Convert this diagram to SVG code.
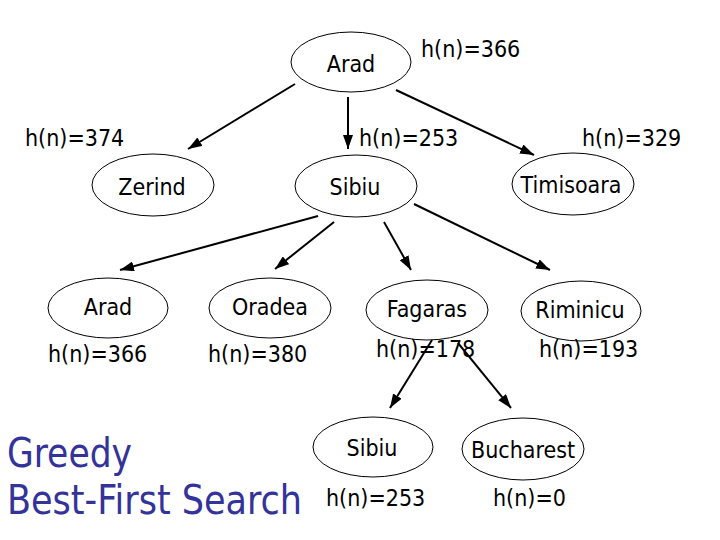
<svg xmlns="http://www.w3.org/2000/svg" width="720" height="540" viewBox="0 0 720 540">
<defs>
<marker id="ah" viewBox="0 0 14 10" refX="14" refY="5" markerWidth="14" markerHeight="10" markerUnits="userSpaceOnUse" orient="auto">
<path d="M0,0 L14,5 L0,10 z" fill="#000"/>
</marker>
<style>
.n ellipse{fill:#fff;stroke:#000;stroke-width:1}
text{font-family:"DejaVu Sans Condensed","DejaVu Sans",sans-serif;font-size:23px;fill:#000}
.c{text-anchor:middle}
.e line{stroke:#000;stroke-width:2;marker-end:url(#ah)}
.t{font-size:40px;fill:#333399}
</style>
</defs>
<rect width="720" height="540" fill="#fff"/>
<g id="edges" class="e">
<line x1="295" y1="84" x2="188" y2="149"/>
<line x1="348" y1="97" x2="348" y2="149"/>
<line x1="396" y1="90" x2="534" y2="155"/>
<line x1="318" y1="216" x2="120" y2="270"/>
<line x1="334" y1="222" x2="275" y2="269"/>
<line x1="384" y1="222" x2="411" y2="270"/>
<line x1="414" y1="204" x2="550" y2="270"/>
<line x1="432" y1="340" x2="390" y2="408"/>
<line x1="458" y1="343" x2="511" y2="408"/>
</g>
<g id="n-arad" class="n"><ellipse cx="351" cy="62" rx="60" ry="30"/><text class="c" x="351" y="72">Arad</text></g>
<text x="421" y="57">h(n)=366</text>
<text x="25" y="146">h(n)=374</text>
<text x="359" y="146">h(n)=253</text>
<text x="582" y="146">h(n)=329</text>
<g id="n-zerind" class="n"><ellipse cx="153" cy="185" rx="61" ry="31"/><text class="c" x="152" y="195">Zerind</text></g>
<g id="n-sibiu" class="n"><ellipse cx="356" cy="186" rx="61" ry="31"/><text class="c" x="355" y="195">Sibiu</text></g>
<g id="n-timisoara" class="n"><ellipse cx="573" cy="184" rx="61" ry="31"/><text class="c" x="571" y="193">Timisoara</text></g>
<g id="n-arad2" class="n"><ellipse cx="108" cy="308" rx="60" ry="30"/><text class="c" x="108" y="315">Arad</text></g>
<g id="n-oradea" class="n"><ellipse cx="270" cy="308" rx="61" ry="30"/><text class="c" x="270" y="315">Oradea</text></g>
<g id="n-fagaras" class="n"><ellipse cx="427" cy="310" rx="61" ry="30"/><text class="c" x="427" y="317">Fagaras</text></g>
<g id="n-riminicu" class="n"><ellipse cx="581" cy="311" rx="60" ry="30"/><text class="c" x="580" y="318">Riminicu</text></g>
<text x="48" y="362">h(n)=366</text>
<text x="208" y="362">h(n)=380</text>
<text x="376" y="357">h(n)=178</text>
<text x="539" y="357">h(n)=193</text>
<g id="n-sibiu2" class="n"><ellipse cx="373" cy="447" rx="60" ry="30"/><text class="c" x="372" y="456">Sibiu</text></g>
<g id="n-bucharest" class="n"><ellipse cx="523" cy="449" rx="61" ry="31"/><text class="c" x="523" y="458">Bucharest</text></g>
<text x="326" y="506">h(n)=253</text>
<text x="493" y="506">h(n)=0</text>
<text class="t" x="7" y="467" textLength="125" lengthAdjust="spacingAndGlyphs">Greedy</text>
<text class="t" x="7" y="514" textLength="295" lengthAdjust="spacingAndGlyphs">Best-First Search</text>
</svg>
